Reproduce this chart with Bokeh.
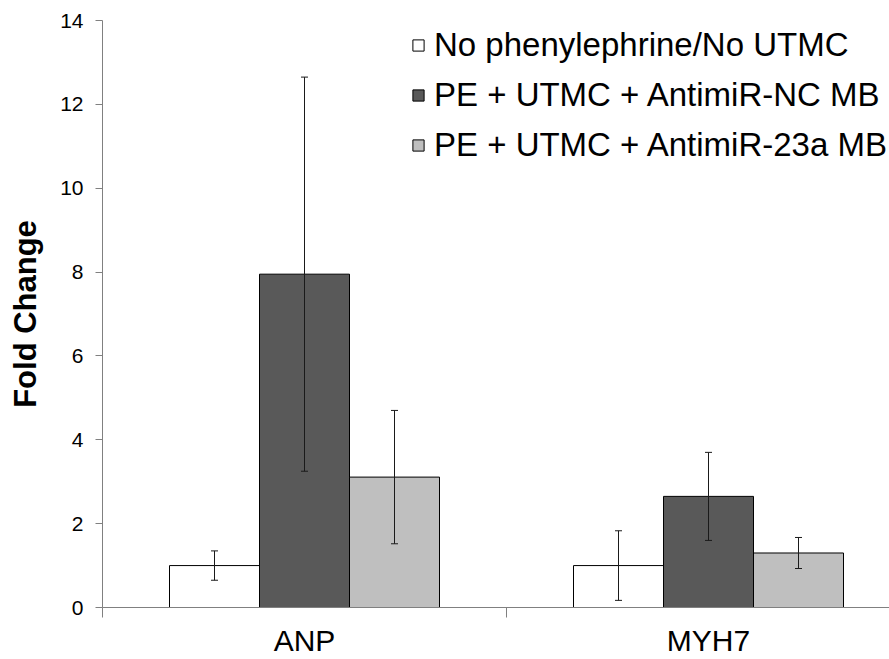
from bokeh.plotting import figure
from bokeh.models import (Range1d, FixedTicker, ColumnDataSource, Whisker, TeeHead,
                          Legend, LegendItem)
from bokeh.transform import dodge
from bokeh.embed import file_html
from bokeh.resources import INLINE
import numpy as np

categories = ["ANP", "MYH7"]
series = ["No phenylephrine/No UTMC", "PE + UTMC + AntimiR-NC MB", "PE + UTMC + AntimiR-23a MB"]
no_pe = [1.0, 1.0]
nc_mb = [7.95, 2.65]
mir23a_mb = [3.11, 1.30]
err_no_pe = [0.35, 0.83]
err_nc_mb = [4.70, 1.05]
err_mir23a_mb = [1.59, 0.37]
y_ticks = [0, 2, 4, 6, 8, 10, 12, 14]

colors = ["#ffffff", "#595959", "#bfbfbf"]
FONT = "Liberation Sans"
AXIS_COLOR = "#808080"

centers = np.arange(len(categories)) + 0.5
bar_w = 90 / 404
offsets = [-bar_w, 0.0, bar_w]

p = figure(width=889, height=659, output_backend="svg", toolbar_location=None,
           x_range=Range1d(0, 787 / 404), y_range=Range1d(0, 14),
           min_border_left=102, min_border_right=0, min_border_top=20, min_border_bottom=52)
p.outline_line_color = None
p.xgrid.visible = False
p.ygrid.visible = False
p.background_fill_color = "white"
p.border_fill_color = "white"

values = [no_pe, nc_mb, mir23a_mb]
errors = [err_no_pe, err_nc_mb, err_mir23a_mb]
items = []
for i, (vals, errs) in enumerate(zip(values, errors)):
    vals = np.array(vals)
    errs = np.array(errs)
    src = ColumnDataSource(dict(x=centers, top=vals, upper=vals + errs, lower=vals - errs))
    r = p.vbar(x=dodge("x", offsets[i], range=p.x_range), top="top", width=bar_w, source=src,
               fill_color=colors[i], line_color="black", line_width=1)
    items.append(LegendItem(label=series[i], renderers=[r]))
    w = Whisker(source=src, base=dodge("x", offsets[i], range=p.x_range), upper="upper", lower="lower",
                line_color="#1a1a1a", line_width=1, level="overlay",
                upper_head=TeeHead(size=7, line_color="#1a1a1a", line_width=1),
                lower_head=TeeHead(size=7, line_color="#1a1a1a", line_width=1))
    p.add_layout(w)

# y axis
p.yaxis.ticker = FixedTicker(ticks=y_ticks, minor_ticks=[])
p.yaxis.axis_line_color = AXIS_COLOR
p.yaxis.major_tick_line_color = AXIS_COLOR
p.yaxis.major_tick_out = 7
p.yaxis.major_tick_in = 0
p.yaxis.major_label_standoff = 12
p.yaxis.major_label_text_font = FONT
p.yaxis.major_label_text_font_size = "21px"
p.yaxis.major_label_text_color = "black"
p.yaxis.axis_label = "Fold Change"
p.yaxis.axis_label_text_font = FONT
p.yaxis.axis_label_text_font_style = "bold"
p.yaxis.axis_label_text_font_size = "31px"
p.yaxis.axis_label_text_color = "black"
p.yaxis.axis_label_standoff = 14

# x axis: labels at category centres, ticks at category boundaries
p.xaxis.ticker = FixedTicker(ticks=list(centers), minor_ticks=[0, 1, 2])
p.xaxis.major_label_overrides = {float(c): cat for c, cat in zip(centers, categories)}
p.xaxis.axis_line_color = AXIS_COLOR
p.xaxis.major_tick_line_color = None
p.xaxis.major_tick_out = 10
p.xaxis.major_tick_in = 0
p.xaxis.minor_tick_line_color = AXIS_COLOR
p.xaxis.minor_tick_out = 10
p.xaxis.minor_tick_in = 0
p.xaxis.major_label_standoff = 6
p.xaxis.major_label_text_font = FONT
p.xaxis.major_label_text_font_size = "30px"
p.xaxis.major_label_text_color = "black"

legend = Legend(items=items, location=(309, 443), orientation="vertical",
                label_text_font=FONT, label_text_font_size="33px", label_text_color="black",
                glyph_width=14, glyph_height=14, label_standoff=9, spacing=12,
                padding=0, margin=0, border_line_color=None, background_fill_alpha=0)
p.add_layout(legend)

open("out.html", "w").write(file_html(p, INLINE))
